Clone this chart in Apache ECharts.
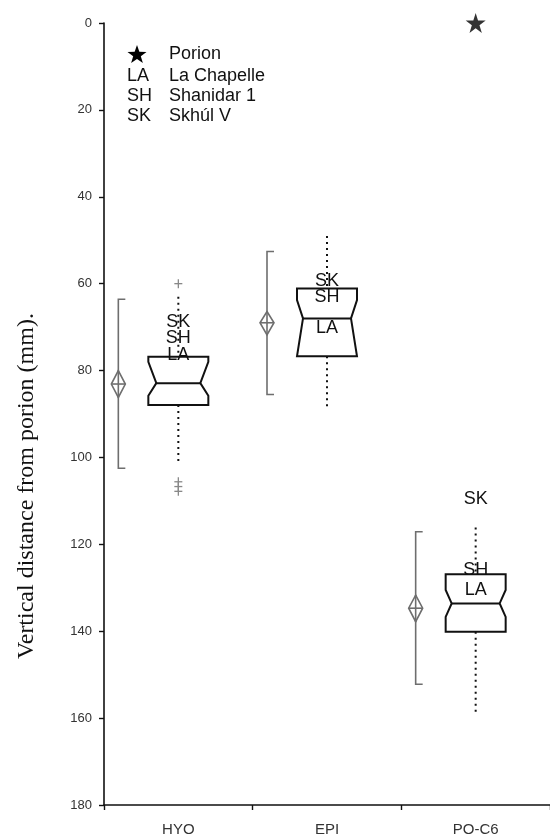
<!DOCTYPE html>
<html>
<head>
<meta charset="utf-8">
<script src="https://cdn.jsdelivr.net/npm/echarts@6/dist/echarts.min.js"></script>
<style>
  html, body { margin: 0; padding: 0; background: #fff; }
  #chart { width: 550px; height: 840px; }
</style>
</head>
<body>
<div id="chart"></div>
<script>
// ---- data ----
var categories = ['HYO', 'EPI', 'PO-C6'];
var yTicks = [0, 20, 40, 60, 80, 100, 120, 140, 160, 180];
// box plot (values in mm, axis inverted)
var boxTop      = [76.8, 61.1, 126.9];
var notchTop    = [78.0, 63.8, 130.5];
var median      = [82.9, 68.0, 133.6];
var notchBottom = [85.8, 76.7, 136.7];
var boxBottom   = [87.9, 76.7, 140.1];
var whiskerTop    = [63.0, 49.0, 116.1];
var whiskerBottom = [101.0, 88.2, 158.9];
// mean diamond (mean, 95% CI) and +/- SD bracket
var meanVal  = [83.1, 69.0, 134.7];
var ciTop    = [80.0, 66.4, 131.7];
var ciBottom = [86.2, 71.8, 137.8];
var sdTop    = [63.6, 52.6, 117.1];
var sdBottom = [102.5, 85.5, 152.2];
// outliers [category, value]
var outliers = [['HYO', 60.0], ['HYO', 105.6], ['HYO', 106.7], ['HYO', 107.8]];
// fossil specimens
var specLA = [76.4, 70.3, 130.5];
var specSH = [72.5, 63.1, 125.9];
var specSK = [68.8, 59.3, 109.6];
var porion = [['PO-C6', 0]];
var legendCodes = ['LA', 'SH', 'SK'];
var legendNames = ['La Chapelle', 'Shanidar 1', 'Skhúl V'];

// ---- styles ----
var BOX_HALF = 30;
var NOTCH_INSET = [8, 6, 6];
var BRACKET_OFFSET = 60;
var DIAMOND_HALF = 7;
var GREY = '#6e6e6e';
var SANS = 'Arial, "Liberation Sans", sans-serif';

function starPoints(cx, cy, R) {
  var pts = [], r = R * 0.4;
  for (var k = 0; k < 10; k++) {
    var ang = -Math.PI / 2 + k * Math.PI / 5;
    var rr = k % 2 === 0 ? R : r;
    pts.push([cx + rr * Math.cos(ang), cy + rr * Math.sin(ang)]);
  }
  return pts;
}
var STAR_PATH = 'path://M50,0 L61.8,36.2 L100,36.2 L69.1,58.8 L80.9,95.1 L50,72.6 L19.1,95.1 L30.9,58.8 L0,36.2 L38.2,36.2 Z';

function renderBox(params, api) {
  var i = api.value(0);
  var cx = api.coord([i, 0])[0];
  function Y(v) { return api.coord([i, v])[1]; }
  var L = cx - BOX_HALF, R = cx + BOX_HALF, ins = NOTCH_INSET[i];
  var children = [];
  // whiskers (dotted)
  children.push({ type: 'line', shape: { x1: cx, y1: Y(whiskerTop[i]), x2: cx, y2: Y(boxTop[i]) },
    style: { stroke: '#111', lineWidth: 2, lineDash: [2, 4] } });
  children.push({ type: 'line', shape: { x1: cx, y1: Y(boxBottom[i]), x2: cx, y2: Y(whiskerBottom[i]) },
    style: { stroke: '#111', lineWidth: 2, lineDash: [2, 4] } });
  // notched box
  var pts = [
    [L, Y(boxTop[i])], [R, Y(boxTop[i])], [R, Y(notchTop[i])], [R - ins, Y(median[i])],
    [R, Y(notchBottom[i])], [R, Y(boxBottom[i])], [L, Y(boxBottom[i])], [L, Y(notchBottom[i])],
    [L + ins, Y(median[i])], [L, Y(notchTop[i])]
  ];
  children.push({ type: 'polygon', shape: { points: pts }, style: { fill: '#fff', stroke: '#111', lineWidth: 2 } });
  children.push({ type: 'line', shape: { x1: L + ins, y1: Y(median[i]), x2: R - ins, y2: Y(median[i]) },
    style: { stroke: '#111', lineWidth: 2 } });
  // SD bracket
  var bx = cx - BRACKET_OFFSET;
  children.push({ type: 'polyline', shape: { points: [[bx + 7, Y(sdTop[i])], [bx, Y(sdTop[i])], [bx, Y(sdBottom[i])], [bx + 7, Y(sdBottom[i])]] },
    style: { fill: null, stroke: GREY, lineWidth: 1.6 } });
  // mean diamond
  children.push({ type: 'polygon', shape: { points: [[bx, Y(ciTop[i])], [bx + DIAMOND_HALF, Y(meanVal[i])], [bx, Y(ciBottom[i])], [bx - DIAMOND_HALF, Y(meanVal[i])]] },
    style: { fill: '#fff', stroke: GREY, lineWidth: 1.6 } });
  children.push({ type: 'line', shape: { x1: bx - DIAMOND_HALF, y1: Y(meanVal[i]), x2: bx + DIAMOND_HALF, y2: Y(meanVal[i]) },
    style: { stroke: GREY, lineWidth: 1.6 } });
  children.push({ type: 'line', shape: { x1: bx, y1: Y(ciTop[i]), x2: bx, y2: Y(ciBottom[i]) },
    style: { stroke: GREY, lineWidth: 1.6 } });
  // specimen labels
  [['SK', specSK[i]], ['SH', specSH[i]], ['LA', specLA[i]]].forEach(function (s) {
    children.push({ type: 'text', x: cx, y: Y(s[1]),
      style: { text: s[0], font: '18px ' + SANS, fill: '#111', align: 'center', verticalAlign: 'middle' } });
  });
  return { type: 'group', children: children };
}

function renderOutlier(params, api) {
  var p = api.coord([api.value(0), api.value(1)]);
  return { type: 'group', children: [
    { type: 'line', shape: { x1: p[0] - 4, y1: p[1], x2: p[0] + 4, y2: p[1] }, style: { stroke: '#888', lineWidth: 1.3 } },
    { type: 'line', shape: { x1: p[0], y1: p[1] - 4.5, x2: p[0], y2: p[1] + 4.5 }, style: { stroke: '#888', lineWidth: 1.3 } }
  ] };
}

var graphics = [
  { type: 'text', x: 27, y: 486, rotation: Math.PI / 2,
    style: { text: 'Vertical distance from porion (mm).', font: '24px "Liberation Serif", "Times New Roman", serif', fill: '#111', align: 'center', verticalAlign: 'middle' } },
  { type: 'polygon', shape: { points: starPoints(137, 55, 10) }, style: { fill: '#000' } },
  { type: 'text', x: 169, y: 54, style: { text: 'Porion', font: '18px ' + SANS, fill: '#111', verticalAlign: 'middle' } }
];
legendCodes.forEach(function (c, k) {
  var y = 75.7 + k * 20.3;
  graphics.push({ type: 'text', x: 127, y: y, style: { text: c, font: '18px ' + SANS, fill: '#111', verticalAlign: 'middle' } });
  graphics.push({ type: 'text', x: 169, y: y, style: { text: legendNames[k], font: '18px ' + SANS, fill: '#111', verticalAlign: 'middle' } });
});

var chart = echarts.init(document.getElementById('chart'), null, { renderer: 'canvas' });
chart.setOption({
  animation: false,
  backgroundColor: '#fff',
  grid: { left: 104, right: -4, top: 23, bottom: 35, containLabel: false },
  xAxis: {
    type: 'category', data: categories, boundaryGap: true, position: 'bottom',
    axisLine: { onZero: false, lineStyle: { color: '#111', width: 1.6 } },
    axisTick: { show: true, length: 5, lineStyle: { color: '#111', width: 1.4 } },
    axisLabel: { fontSize: 15, fontFamily: SANS, color: '#333', margin: 17 },
    splitLine: { show: false }
  },
  yAxis: {
    type: 'value', inverse: true, min: yTicks[0], max: yTicks[yTicks.length - 1], interval: yTicks[1] - yTicks[0],
    axisLine: { show: true, onZero: false, lineStyle: { color: '#111', width: 1.6 } },
    axisTick: { show: true, length: 5, lineStyle: { color: '#111', width: 1.4 } },
    axisLabel: { fontSize: 13, fontFamily: SANS, color: '#333', margin: 12 },
    splitLine: { show: false }
  },
  series: [
    { type: 'custom', data: categories.map(function (c, i) { return [i]; }), renderItem: renderBox, encode: { x: 0 }, silent: true, z: 2 },
    { type: 'custom', data: outliers, renderItem: renderOutlier, encode: { x: 0, y: 1 }, silent: true, z: 3 },
    { type: 'scatter', data: porion, symbol: STAR_PATH, symbolSize: 20, itemStyle: { color: '#000' }, silent: true, z: 4 }
  ],
  graphic: graphics
});
</script>
</body>
</html>
